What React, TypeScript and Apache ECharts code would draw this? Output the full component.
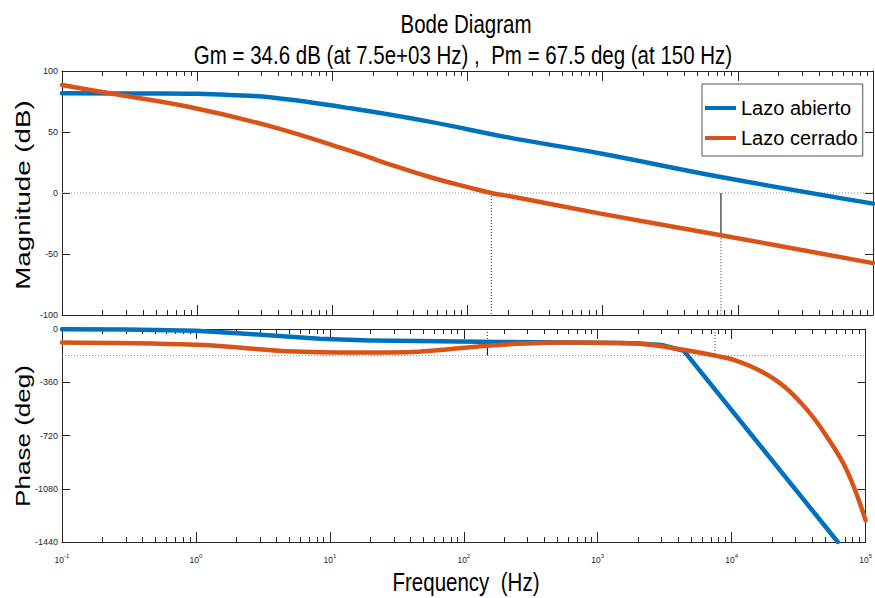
import React, { useEffect, useRef } from 'react';
import * as echarts from 'echarts';

// ---------- data ----------
const freqMagOpen = [0.1, 0.5, 1, 1.75, 3.45, 13.6, 53.2, 208, 967, 7480, 100000];
const magOpen = [81.7, 81.6, 81.3, 80.3, 78.4, 69.4, 58.3, 45.2, 32.4, 13.1, -8.7];

const freqMagClosed = [0.1, 0.22, 0.86, 3.45, 13.6, 26.9, 53.2, 105, 150, 208, 967, 7500, 100000];
const magClosed = [88.5, 81.9, 70.7, 54.8, 34.5, 23.2, 12.9, 4.2, 0, -2.7, -16.9, -34.6, -57.5];

const freqPhaseOpen = [0.1, 0.3, 1, 2.7, 8.4, 20, 46, 182, 610, 1900, 3000, 4400, 62000];
const phaseOpen = [-1, -3, -12, -36, -66, -77, -81, -88, -91, -96, -108, -148, -1440];

const freqPhaseClosed = [0.1, 1, 2.7, 4.7, 14.8, 46.4, 80, 150, 250, 610, 1900, 4270, 7500, 10500, 16700, 24700, 36600, 51400, 72300, 100000];
const phaseClosed = [-91, -106, -134, -150, -159, -153, -136, -114, -100, -91, -98, -138, -180, -210, -287, -389, -547, -728, -954, -1293];

const seriesNames = ['Lazo abierto', 'Lazo cerrado'];

// margins
const gainMarginDb = 34.6;
const gainMarginFreq = 7500;
const gainMarginFreqLabel = '7.5e+03';
const phaseMarginDeg = 67.5;
const phaseMarginFreq = 150;

// axes
const decadeExponents = [-1, 0, 1, 2, 3, 4, 5];
const minorMultipliers = [2, 3, 4, 5, 6, 7, 8, 9];
const magRange = [-100, 100];
const magInterval = 50;
const phaseRange = [-1440, 0];
const phaseInterval = 360;

// ---------- style ----------
const SANS = "'Liberation Sans', Arial, Helvetica, sans-serif";
const AXIS_COLOR = '#262626';
const BLUE = '#0072BD';
const ORANGE = '#D95319';
const REF_GREY = '#8c8c8c';

function pairs(xs: number[], ys: number[]) {
  return xs.map((x, i) => [x, ys[i]]);
}

export default function App() {
  const ref = useRef<HTMLDivElement>(null);

  useEffect(() => {
    const chart = echarts.init(ref.current!, null, { renderer: 'svg' });

    const expMin = decadeExponents[0];
    const expMax = decadeExponents[decadeExponents.length - 1];
    const fMin = Math.pow(10, expMin);
    const fMax = Math.pow(10, expMax);
    const minorExps: number[] = [];
    decadeExponents.slice(0, -1).forEach((d) => {
      minorMultipliers.forEach((m) => minorExps.push(d + Math.log10(m)));
    });

    const axisLineStyle = { color: AXIS_COLOR, width: 1 };

    const logAxis = (gridIndex: number) => ({
      type: 'log',
      logBase: 10,
      min: fMin,
      max: fMax,
      gridIndex,
      show: false,
      axisLine: { onZero: false },
    });

    const majorAxis = (gridIndex: number, position: string, labels: boolean) => ({
      type: 'value',
      gridIndex,
      position,
      min: expMin,
      max: expMax,
      interval: 1,
      axisLine: { show: true, onZero: false, lineStyle: axisLineStyle },
      axisTick: { show: true, inside: true, length: 10, lineStyle: axisLineStyle },
      axisLabel: labels
        ? {
            show: true,
            margin: 11,
            showMinLabel: true,
            showMaxLabel: true,
            formatter: (v: number) => `{b|10}{s|${Math.round(v)}}`,
            rich: {
              b: { fontSize: 8.5, fontFamily: SANS, color: AXIS_COLOR, lineHeight: 14 },
              s: { fontSize: 6, fontFamily: SANS, color: AXIS_COLOR, lineHeight: 7, verticalAlign: 'top' },
            },
          }
        : { show: false },
      splitLine: { show: false },
    });

    const minorAxis = (gridIndex: number, position: string) => ({
      type: 'value',
      gridIndex,
      position,
      min: expMin,
      max: expMax,
      axisLine: { show: false, onZero: false },
      axisTick: { show: true, inside: true, length: 5, customValues: minorExps, lineStyle: axisLineStyle },
      axisLabel: { show: false, customValues: minorExps },
      splitLine: { show: false },
    });

    const yAxisDef = (gridIndex: number, position: string, range: number[], interval: number, labels: boolean) => ({
      type: 'value',
      gridIndex,
      position,
      min: range[0],
      max: range[1],
      interval,
      axisLine: { show: true, onZero: false, lineStyle: axisLineStyle },
      axisTick: { show: true, inside: true, length: 8, lineStyle: axisLineStyle },
      axisLabel: labels
        ? {
            show: true,
            fontSize: 9,
            fontFamily: SANS,
            color: AXIS_COLOR,
            margin: 4,
            formatter: (v: number) => String(v),
          }
        : { show: false },
      splitLine: { show: false },
    });

    const curve = (name: string, xi: number, yi: number, data: number[][], color: string, smooth: number | boolean) => ({
      name,
      type: 'line',
      xAxisIndex: xi,
      yAxisIndex: yi,
      data,
      showSymbol: false,
      smooth,
      lineStyle: { color, width: 4.5, cap: 'round', join: 'round' },
      itemStyle: { color },
      z: 5,
    });

    const refLine = (xi: number, yi: number, data: number[][], dotted: boolean, color: string) => ({
      type: 'line',
      xAxisIndex: xi,
      yAxisIndex: yi,
      data,
      showSymbol: false,
      silent: true,
      legendHoverLink: false,
      lineStyle: { color, width: 1, type: dotted ? [1, 2] : 'solid' },
      z: 2,
    });

    const pmPhase = -180 + phaseMarginDeg;
    const gmMag = -gainMarginDb;

    const bigText = (text: string, x: number, y: number, fontSize: number, scaleX: number, rotation = 0) => ({
      type: 'text',
      x,
      y,
      rotation,
      scaleX,
      scaleY: 1,
      style: { text, fontSize, fontFamily: SANS, fill: '#000', align: 'center', verticalAlign: 'middle' },
    });

    const option = {
      animation: false,
      backgroundColor: '#ffffff',
      grid: [
        { left: 62, top: 71, width: 811, height: 244 },
        { left: 62, top: 329, width: 811, height: 213 },
      ],
      xAxis: [
        logAxis(0), // 0
        logAxis(1), // 1
        majorAxis(0, 'bottom', false), // 2
        majorAxis(0, 'top', false), // 3
        minorAxis(0, 'bottom'), // 4
        minorAxis(0, 'top'), // 5
        majorAxis(1, 'bottom', true), // 6
        majorAxis(1, 'top', false), // 7
        minorAxis(1, 'bottom'), // 8
        minorAxis(1, 'top'), // 9
      ],
      yAxis: [
        yAxisDef(0, 'left', magRange, magInterval, true),
        yAxisDef(0, 'right', magRange, magInterval, false),
        yAxisDef(1, 'left', phaseRange, phaseInterval, true),
        yAxisDef(1, 'right', phaseRange, phaseInterval, false),
      ],
      legend: {
        data: seriesNames,
        orient: 'vertical',
        left: 702,
        top: 84,
        itemWidth: 31,
        itemHeight: 4,
        itemGap: 10,
        icon: 'rect',
        padding: [14, 5, 8, 3],
        borderColor: '#555555',
        borderWidth: 1,
        borderRadius: 0,
        backgroundColor: '#ffffff',
        selectedMode: false,
        textStyle: { fontSize: 20, fontFamily: SANS, color: '#000000' },
      },
      graphic: [
        bigText('Bode Diagram', 466, 24, 25, 0.82),
        bigText(
          `Gm = ${gainMarginDb} dB (at ${gainMarginFreqLabel} Hz) ,\u00a0 Pm = ${phaseMarginDeg} deg (at ${phaseMarginFreq} Hz)`,
          463,
          55,
          25,
          0.82
        ),
        bigText('Frequency\u00a0 (Hz)', 466, 582, 25, 0.82),
        bigText('Magnitude (dB)', 23, 195, 21, 1.32, Math.PI / 2),
        bigText('Phase (deg)', 23, 436, 21, 1.24, Math.PI / 2),
      ],
      series: [
        // reference lines
        refLine(0, 0, [[fMin, 0], [fMax, 0]], true, REF_GREY),
        refLine(1, 2, [[fMin, -180], [fMax, -180]], true, REF_GREY),
        refLine(0, 0, [[gainMarginFreq, 0], [gainMarginFreq, gmMag]], false, '#000000'),
        refLine(0, 0, [[gainMarginFreq, gmMag], [gainMarginFreq, magRange[0]]], true, '#333333'),
        refLine(0, 0, [[phaseMarginFreq, 0], [phaseMarginFreq, magRange[0]]], true, '#333333'),
        refLine(1, 2, [[phaseMarginFreq, 0], [phaseMarginFreq, pmPhase]], true, '#333333'),
        refLine(1, 2, [[phaseMarginFreq, pmPhase], [phaseMarginFreq, -180]], false, '#000000'),
        refLine(1, 2, [[gainMarginFreq, 0], [gainMarginFreq, -180]], true, '#333333'),
        // curves
        curve(seriesNames[0], 0, 0, pairs(freqMagOpen, magOpen), BLUE, 0.4),
        curve(seriesNames[1], 0, 0, pairs(freqMagClosed, magClosed), ORANGE, 0.4),
        curve(seriesNames[0], 1, 2, pairs(freqPhaseOpen, phaseOpen), BLUE, false),
        curve(seriesNames[1], 1, 2, pairs(freqPhaseClosed, phaseClosed), ORANGE, 0.4),
      ],
    };

    chart.setOption(option as any);
    return () => {
      chart.dispose();
    };
  }, []);

  return (
    <div
      ref={ref}
      style={{ position: 'fixed', left: 0, top: 0, width: 875, height: 598, background: '#fff' }}
    />
  );
}
